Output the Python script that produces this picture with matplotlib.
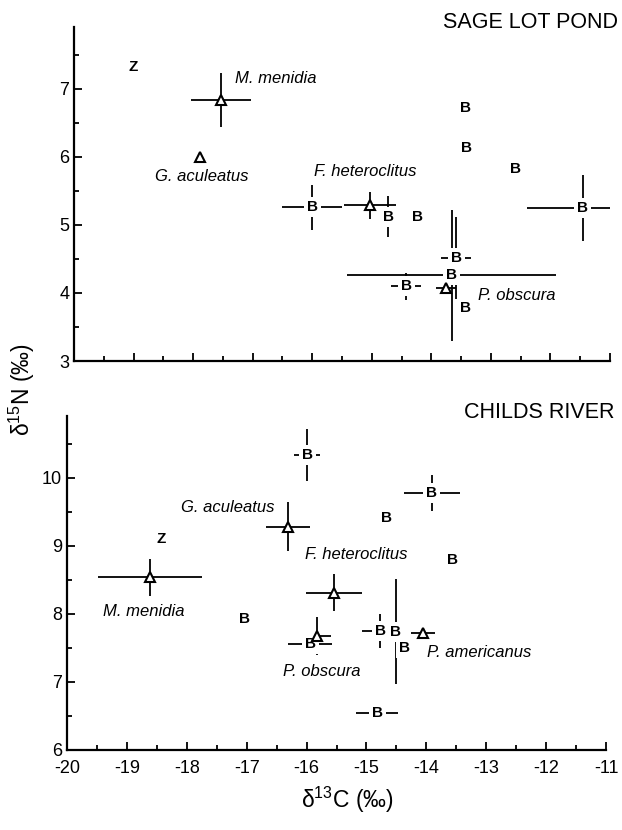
import matplotlib.pyplot as plt
from matplotlib.ticker import MultipleLocator

plt.rcParams['font.family'] = ['Liberation Sans', 'DejaVu Sans']
plt.rcParams['mathtext.default'] = 'regular'
plt.rcParams['axes.unicode_minus'] = False

# Sage Lot Pond: letter points (B = ?, Z = zooplankton)
sage_let = ['Z', 'B', 'B', 'B', 'B', 'B', 'B', 'B', 'B', 'B', 'B', 'B']
sage_let_x = [-19.0, -16.0, -14.72, -14.24, -11.46, -13.43, -13.41, -12.59, -13.58, -13.66, -14.42, -13.43]
sage_let_y = [7.32, 5.26, 5.12, 5.12, 5.25, 6.72, 6.13, 5.82, 4.51, 4.26, 4.10, 3.78]
sage_let_xerr = [0, 0.5, 0, 0, 0.94, 0, 0, 0, 0.25, 1.76, 0.25, 0]
sage_let_yerr = [0, 0.33, 0.3, 0, 0.48, 0, 0, 0, 0.6, 0.96, 0.2, 0]

# Sage Lot Pond: fish means (triangles)
sage_fish = ['M. menidia', 'G. aculeatus', 'F. heteroclitus', 'P. obscura']
sage_fish_x = [-17.53, -17.88, -15.03, -13.75]
sage_fish_y = [6.84, 6.0, 5.29, 4.07]
sage_fish_xerr = [0.5, 0, 0.43, 0.17]
sage_fish_yerr = [0.4, 0, 0.2, 0]
sage_lab_x = [-17.29, -17.85, -15.97, -13.21]
sage_lab_y = [7.15, 5.71, 5.78, 3.97]
sage_lab_ha = ['left', 'center', 'left', 'left']

# Childs River
childs_let = ['Z', 'B', 'B', 'B', 'B', 'B', 'B', 'B', 'B', 'B', 'B']
childs_let_x = [-18.43, -15.99, -17.03, -13.91, -14.66, -13.56, -15.94, -14.77, -14.51, -14.37, -14.82]
childs_let_y = [9.10, 10.34, 7.93, 9.78, 9.41, 8.79, 7.56, 7.75, 7.74, 7.50, 6.54]
childs_let_xerr = [0, 0.22, 0, 0.47, 0, 0, 0.37, 0.3, 0, 0, 0.35]
childs_let_yerr = [0, 0.38, 0, 0.26, 0, 0, 0, 0.25, 0.77, 0, 0]

childs_fish = ['G. aculeatus', 'M. menidia', 'F. heteroclitus', 'P. obscura', 'P. americanus']
childs_fish_x = [-16.31, -18.61, -15.54, -15.83, -14.06]
childs_fish_y = [9.28, 8.54, 8.31, 7.68, 7.72]
childs_fish_xerr = [0.37, 0.87, 0.47, 0.23, 0.2]
childs_fish_yerr = [0.36, 0.27, 0.27, 0.28, 0]
childs_lab_x = [-16.54, -19.40, -16.03, -15.74, -13.99]
childs_lab_y = [9.56, 8.03, 8.87, 7.16, 7.43]
childs_lab_ha = ['right', 'left', 'left', 'center', 'left']

x_ticks = [-20, -19, -18, -17, -16, -15, -14, -13, -12, -11]


def panel(ax, let, lx, ly, lxe, lye, fish, fx, fy, fxe, fye, tx, ty, tha, ylim, yt):
    ax.errorbar(lx, ly, xerr=lxe, yerr=lye, fmt='none', ecolor='black',
                elinewidth=1.3, capsize=0, zorder=2)
    ax.errorbar(fx, fy, xerr=fxe, yerr=fye, fmt='none', ecolor='black',
                elinewidth=1.3, capsize=0, zorder=2)
    for s, x, y in zip(let, lx, ly):
        ax.text(x, y, s, ha='center', va='center', fontsize=11, fontweight='bold',
                zorder=3, bbox=dict(boxstyle='square,pad=0.2', fc='white', ec='none'))
    ax.plot(fx, fy, '^', ms=7.5, mfc='white', mec='black', mew=1.5, ls='none', zorder=4)
    for s, x, y, h in zip(fish, tx, ty, tha):
        ax.text(x, y, s, ha=h, va='center', fontsize=12, style='italic', zorder=5)
    ax.set_xlim(-20, -11)
    ax.set_ylim(*ylim)
    ax.set_xticks(x_ticks)
    ax.set_yticks(yt)
    ax.xaxis.set_minor_locator(MultipleLocator(0.5))
    ax.yaxis.set_minor_locator(MultipleLocator(0.5))
    ax.tick_params(which='both', direction='in', width=1.3, labelsize=13)
    ax.tick_params(which='major', length=6)
    ax.tick_params(which='minor', length=3.5)
    for sp in ['top', 'right']:
        ax.spines[sp].set_visible(False)
    for sp in ['left', 'bottom']:
        ax.spines[sp].set_linewidth(1.6)


fig = plt.figure(figsize=(6.22, 8.3), dpi=100)
ax1 = fig.add_axes([74 / 622, 1 - 361 / 830, (610 - 74) / 622, (361 - 27) / 830])
ax2 = fig.add_axes([67 / 622, 1 - 750 / 830, (606 - 67) / 622, (750 - 416) / 830])

panel(ax1, sage_let, sage_let_x, sage_let_y, sage_let_xerr, sage_let_yerr,
      sage_fish, sage_fish_x, sage_fish_y, sage_fish_xerr, sage_fish_yerr,
      sage_lab_x, sage_lab_y, sage_lab_ha, (3, 7.91), [3, 4, 5, 6, 7])
ax1.tick_params(axis='x', labelbottom=False)

panel(ax2, childs_let, childs_let_x, childs_let_y, childs_let_xerr, childs_let_yerr,
      childs_fish, childs_fish_x, childs_fish_y, childs_fish_xerr, childs_fish_yerr,
      childs_lab_x, childs_lab_y, childs_lab_ha, (6, 10.91), [6, 7, 8, 9, 10])
ax2.tick_params(axis='x', pad=7)

fig.text(618 / 622, 1 - 23 / 830, 'SAGE LOT POND', ha='right', va='center', fontsize=15.5)
fig.text(615 / 622, 1 - 413 / 830, 'CHILDS RIVER', ha='right', va='center', fontsize=15.5)
fig.text(347 / 622, 1 - 800 / 830, 'δ$^{13}$C (‰)', ha='center', va='center', fontsize=16.5)
fig.text(22 / 622, 1 - 390 / 830, 'δ$^{15}$N (‰)', ha='center', va='center',
         fontsize=16.5, rotation=90)

fig.savefig('out.png', dpi=100)
